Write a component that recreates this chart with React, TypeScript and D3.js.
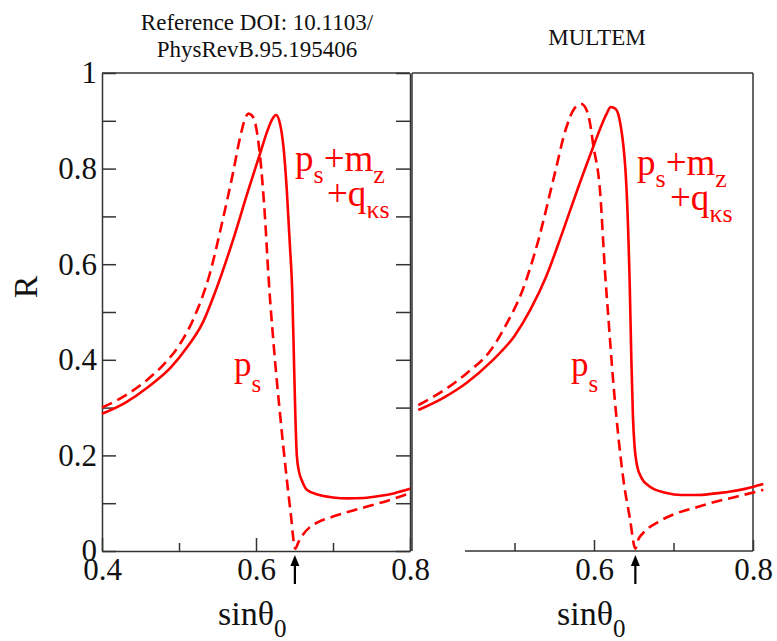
import { useEffect, useRef } from 'react';
import * as d3 from 'd3';

// left panel: reference calculation (PRB 95, 195406)
const refSolidX = [0.40, 0.43, 0.46, 0.49, 0.51, 0.53, 0.55, 0.57, 0.59, 0.605, 0.615, 0.621, 0.626, 0.631, 0.636, 0.640, 0.644, 0.647, 0.649, 0.651, 0.653, 0.656, 0.66, 0.666, 0.68, 0.70, 0.72, 0.74, 0.76, 0.78, 0.80];
const refSolidR = [0.287, 0.31, 0.343, 0.385, 0.425, 0.475, 0.555, 0.65, 0.755, 0.83, 0.88, 0.903, 0.912, 0.895, 0.84, 0.755, 0.64, 0.546, 0.42, 0.29, 0.2, 0.165, 0.146, 0.128, 0.118, 0.112, 0.11, 0.111, 0.115, 0.121, 0.13];
const refDashX = [0.40, 0.43, 0.46, 0.48, 0.50, 0.52, 0.54, 0.555, 0.57, 0.58, 0.586, 0.59, 0.594, 0.599, 0.605, 0.612, 0.616, 0.623, 0.631, 0.64, 0.645, 0.651, 0.655, 0.66, 0.67, 0.68, 0.70, 0.72, 0.74, 0.76, 0.78, 0.80];
const refDashR = [0.30, 0.325, 0.36, 0.39, 0.43, 0.49, 0.58, 0.68, 0.79, 0.87, 0.905, 0.915, 0.912, 0.895, 0.83, 0.69, 0.58, 0.43, 0.29, 0.15, 0.08, 0.005, 0.018, 0.032, 0.05, 0.06, 0.072, 0.082, 0.091, 0.10, 0.11, 0.121];

// right panel: MULTEM
const mulSolidX = [0.379, 0.41, 0.44, 0.47, 0.50, 0.52, 0.54, 0.56, 0.58, 0.60, 0.61, 0.616, 0.621, 0.627, 0.633, 0.641, 0.645, 0.647, 0.649, 0.651, 0.654, 0.66, 0.67, 0.69, 0.71, 0.73, 0.75, 0.77, 0.79, 0.813];
const mulSolidR = [0.295, 0.32, 0.352, 0.395, 0.45, 0.505, 0.575, 0.665, 0.76, 0.85, 0.893, 0.915, 0.929, 0.925, 0.895, 0.755, 0.552, 0.40, 0.28, 0.22, 0.18, 0.152, 0.135, 0.122, 0.117, 0.117, 0.12, 0.124, 0.13, 0.14];
const mulDashX = [0.379, 0.41, 0.44, 0.47, 0.49, 0.51, 0.53, 0.55, 0.565, 0.575, 0.584, 0.59, 0.595, 0.599, 0.6075, 0.614, 0.618, 0.624, 0.63, 0.637, 0.645, 0.652, 0.656, 0.662, 0.68, 0.704, 0.73, 0.746, 0.78, 0.813];
const mulDashR = [0.305, 0.335, 0.372, 0.42, 0.475, 0.545, 0.65, 0.785, 0.885, 0.925, 0.935, 0.925, 0.895, 0.85, 0.755, 0.58, 0.49, 0.358, 0.25, 0.149, 0.07, 0.005, 0.025, 0.038, 0.06, 0.079, 0.092, 0.10, 0.114, 0.128];

const yTicks = [0, 0.1, 0.2, 0.3, 0.4, 0.5, 0.6, 0.7, 0.8, 0.9, 1];
const xMajor = [0.4, 0.6, 0.8];
const xMinor = [0.5, 0.7];
const arrowAt = [0.6505, 0.652]; // left, right

const RED = '#ff0000';
const SERIF = "'Liberation Serif', 'Times New Roman', Times, serif";

const y = d3.scaleLinear().domain([0, 1]).range([551, 73]);
const xL = d3.scaleLinear().domain([0.4, 0.8]).range([102, 410]);
const xR = d3.scaleLinear().domain([0.6, 0.8]).range([594, 753]);

const zip = (xs, rs) => xs.map((x, i) => [x, rs[i]]);

const lineFor = (x) => d3.line()
  .x(d => x(d[0]))
  .y(d => y(d[1]))
  .curve(d3.curveMonotoneX);

const yFmt = d => {
  const t = Math.round(d * 10);
  if (t % 2) return '';
  if (t === 0) return '0';
  if (t === 10) return '1';
  return (t / 10).toFixed(1);
};

const styleAxis = (g) => {
  g.attr('font-family', null).attr('font-size', null)
    .style('font-family', SERIF).style('font-size', '31px');
  g.selectAll('.domain, .tick line').attr('stroke', '#333').attr('stroke-width', 1.5);
  g.selectAll('text').attr('fill', '#111');
};

const Annot = ({ x, y0, dx2 }) => (
  <g fill={RED} style={{ fontFamily: SERIF }}>
    <text x={x} y={y0} style={{ fontSize: 37 }}>
      p<tspan style={{ fontSize: 26 }} dy={12}>s</tspan>
      <tspan style={{ fontSize: 37 }} dy={-12}>+m</tspan>
      <tspan style={{ fontSize: 26 }} dy={12}>z</tspan>
    </text>
    <text x={x + dx2} y={y0 + 35} style={{ fontSize: 37 }}>
      +q<tspan style={{ fontSize: 26 }} dy={12}>κs</tspan>
    </text>
  </g>
);

const App = () => {
  const axRef = useRef(null);

  useEffect(() => {
    const g = d3.select(axRef.current);
    g.selectAll('*').remove();

    // left panel y axis
    g.append('g')
      .attr('transform', `translate(${xL(0.4)},0)`)
      .call(d3.axisLeft(y).tickValues(yTicks).tickSize(-14).tickSizeOuter(0).tickPadding(5).tickFormat(yFmt))
      .call(styleAxis);

    // left panel right border with inward ticks
    g.append('g')
      .attr('transform', `translate(${xL(0.8)},0)`)
      .call(d3.axisRight(y).tickValues(yTicks).tickSize(-14).tickSizeOuter(0).tickFormat(() => ''))
      .call(styleAxis);

    // left panel bottom
    g.append('g')
      .attr('transform', `translate(0,${y(0)})`)
      .call(d3.axisBottom(xL).tickValues(xMajor).tickSize(-13).tickSizeOuter(0).tickPadding(7).tickFormat(d3.format('.1f')))
      .call(styleAxis);
    g.append('g')
      .attr('transform', `translate(0,${y(0)})`)
      .call(d3.axisBottom(xL).tickValues(xMinor).tickSize(-8).tickSizeOuter(0).tickFormat(() => ''))
      .call(styleAxis)
      .select('.domain').remove();

    // right panel bottom (its left part is hidden behind the left panel)
    const rb = g.append('g')
      .attr('transform', `translate(0,${y(0)})`)
      .call(d3.axisBottom(xR).tickValues([0.6, 0.8]).tickSize(-11).tickSizeOuter(0).tickPadding(7).tickFormat(d3.format('.1f')))
      .call(styleAxis);
    rb.select('.domain').remove();
    const rm = g.append('g')
      .attr('transform', `translate(0,${y(0)})`)
      .call(d3.axisBottom(xR).tickValues([0.5, 0.7]).tickSize(-8).tickSizeOuter(0).tickFormat(() => ''))
      .call(styleAxis);
    rm.select('.domain').remove();
  }, []);

  const frame = { stroke: '#333', strokeWidth: 1.5, fill: 'none' };

  return (
    <svg width={777} height={641} style={{ position: 'absolute', left: 0, top: 0, background: '#fff' }}>
      {/* titles */}
      <g style={{ fontFamily: SERIF, fontSize: 23 }} fill="#111" textAnchor="middle">
        <text x={257} y={30}>Reference DOI: 10.1103/</text>
        <text x={257} y={57}>PhysRevB.95.195406</text>
        <text x={597} y={45}>MULTEM</text>
      </g>

      {/* frames */}
      <line x1={xL(0.4)} x2={xL(0.8)} y1={y(1)} y2={y(1)} {...frame} />
      <line x1={412} x2={xR(0.8)} y1={y(1)} y2={y(1)} {...frame} />
      <line x1={412} x2={412} y1={y(1)} y2={y(0)} {...frame} />
      <line x1={xR(0.8)} x2={xR(0.8)} y1={y(1)} y2={y(0)} {...frame} />
      <line x1={465} x2={xR(0.8)} y1={y(0)} y2={y(0)} {...frame} />

      <g ref={axRef} />

      {/* curves */}
      <g fill="none" stroke={RED} strokeWidth={2.6}>
        <path d={lineFor(xL)(zip(refSolidX, refSolidR))} />
        <path d={lineFor(xL)(zip(refDashX, refDashR))} strokeDasharray="11,6" />
        <path d={lineFor(xR)(zip(mulSolidX, mulSolidR))} />
        <path d={lineFor(xR)(zip(mulDashX, mulDashR))} strokeDasharray="11,6" />
      </g>

      {/* arrows */}
      {[xL(arrowAt[0]), xR(arrowAt[1])].map((ax, i) => (
        <g key={i} fill="#000" stroke="#000">
          <line x1={ax} x2={ax} y1={584} y2={562} strokeWidth={2.2} />
          <path d={`M${ax},555L${ax - 4.5},566L${ax + 4.5},566Z`} stroke="none" />
        </g>
      ))}

      {/* annotations */}
      <Annot x={295} y0={171} dx2={32} />
      <Annot x={637} y0={175} dx2={33} />
      <g fill={RED} style={{ fontFamily: SERIF }}>
        <text x={234} y={376} style={{ fontSize: 35 }}>p<tspan style={{ fontSize: 25 }} dy={16}>s</tspan></text>
        <text x={571} y={376} style={{ fontSize: 35 }}>p<tspan style={{ fontSize: 25 }} dy={16}>s</tspan></text>
      </g>

      {/* axis titles */}
      <g style={{ fontFamily: SERIF }} fill="#111">
        <text transform="translate(37,287) rotate(-90)" textAnchor="middle" style={{ fontSize: 34 }}>R</text>
        <text x={218} y={625} style={{ fontSize: 34 }}>sinθ<tspan style={{ fontSize: 25 }} dy={12}>0</tspan></text>
        <text x={557} y={625} style={{ fontSize: 34 }}>sinθ<tspan style={{ fontSize: 25 }} dy={12}>0</tspan></text>
      </g>
    </svg>
  );
};

export default App;
